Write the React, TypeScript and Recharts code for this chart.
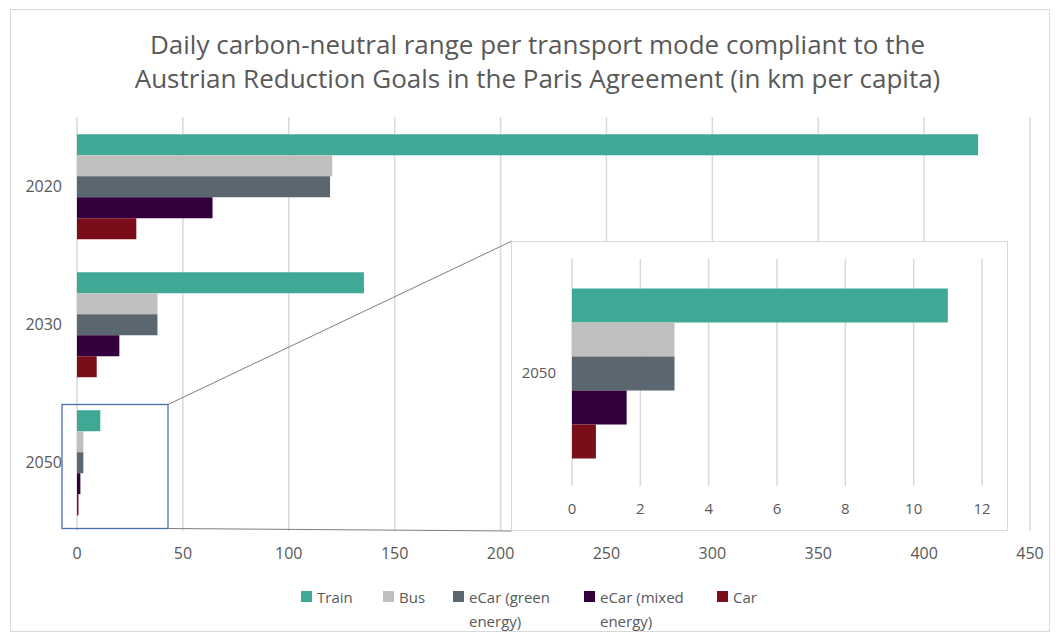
import { BarChart, Bar, XAxis, YAxis, CartesianGrid } from "recharts";

const years = ["2020", "2030", "2050"];
const seriesNames = ["Train", "Bus", "eCar (green energy)", "eCar (mixed energy)", "Car"];
const seriesColors = ["#3fa996", "#bfbfbf", "#5b6770", "#33003d", "#7b0c1a"];

// km per capita per day, one array per mode (2020, 2030, 2050)
const train = [425.5, 135.5, 11.0];
const bus = [120.5, 38, 3.0];
const eCarGreen = [119.5, 38, 3.0];
const eCarMixed = [64, 20, 1.6];
const car = [28, 9.3, 0.7];

const mainTicks = [0, 50, 100, 150, 200, 250, 300, 350, 400, 450];
const insetTicks = [0, 2, 4, 6, 8, 10, 12];
const insetYear = "2050";

const allSeries = [train, bus, eCarGreen, eCarMixed, car];

const mainData = years.map((year, i) => {
  const row: Record<string, string | number> = { year };
  seriesNames.forEach((name, s) => {
    row[name] = allSeries[s][i];
  });
  return row;
});
const insetData = mainData.filter((d) => d.year === insetYear);

const FONT = "'Open Sans', Lato, sans-serif";
const GREY = "#595959";

function LegendBox() {
  const widths = [82, 70, 131, 133, 60];
  return (
    <div
      style={{
        position: "absolute",
        left: 301,
        top: 585,
        display: "flex",
        fontFamily: FONT,
        fontSize: 15,
        lineHeight: "24px",
        color: GREY,
      }}
    >
      {seriesNames.map((name, i) => (
        <div key={name} style={{ width: widths[i], display: "flex", alignItems: "flex-start" }}>
          <span
            style={{
              width: 11,
              height: 11,
              marginTop: 6,
              marginRight: 5,
              background: seriesColors[i],
              flex: "none",
            }}
          />
          <span style={{ width: 100 }}>{name}</span>
        </div>
      ))}
    </div>
  );
}

export default function App() {
  return (
    <div style={{ position: "absolute", left: 0, top: 0, width: 1056, height: 634, background: "#fff" }}>
      <div
        style={{
          position: "absolute",
          left: 10,
          top: 9,
          width: 1038,
          height: 621,
          border: "1.5px solid #d9d9d9",
        }}
      />
      <div
        style={{
          position: "absolute",
          left: 0,
          width: 1075,
          top: 27,
          textAlign: "center",
          fontFamily: FONT,
          fontSize: 26,
          lineHeight: "34px",
          color: GREY,
        }}
      >
        Daily carbon-neutral range per transport mode compliant to the
        <br />
        Austrian Reduction Goals in the Paris Agreement (in km per capita)
      </div>

      <div style={{ position: "absolute", left: 0, top: 0 }}>
        <BarChart
          layout="vertical"
          width={1056}
          height={634}
          data={mainData}
          margin={{ top: 117, right: 26, bottom: 73, left: 0 }}
          barCategoryGap="12.5%"
          barGap={0}
        >
          <CartesianGrid horizontal={false} stroke="#d9d9d9" strokeWidth={1.5} />
          <XAxis
            type="number"
            domain={[0, 450]}
            ticks={mainTicks}
            height={30}
            axisLine={false}
            tickLine={false}
            tickSize={0}
            tickMargin={17}
            tick={{ fill: GREY, fontSize: 16, fontFamily: FONT }}
          />
          <YAxis
            type="category"
            dataKey="year"
            width={77}
            axisLine={false}
            tickLine={false}
            tickSize={0}
            tickMargin={15}
            tick={{ fill: GREY, fontSize: 16, fontFamily: FONT }}
          />
          {seriesNames.map((name, i) => (
            <Bar key={name} dataKey={name} fill={seriesColors[i]} isAnimationActive={false} />
          ))}
        </BarChart>
      </div>

      <svg
        width={1056}
        height={634}
        style={{ position: "absolute", left: 0, top: 0, pointerEvents: "none" }}
      >
        <rect x={62} y={404.5} width={106} height={124} fill="none" stroke="#4a6fb5" strokeWidth={1.3} />
        <line x1={168} y1={404.5} x2={512} y2={241} stroke="#7f7f7f" strokeWidth={1} />
        <line x1={168} y1={528.5} x2={512} y2={531} stroke="#7f7f7f" strokeWidth={1} />
      </svg>

      <div
        style={{
          position: "absolute",
          left: 511,
          top: 241,
          width: 497,
          height: 290,
          background: "#fff",
          border: "1.5px solid #d9d9d9",
          boxSizing: "border-box",
        }}
      >
        <BarChart
          layout="vertical"
          width={494}
          height={287}
          data={insetData}
          margin={{ top: 17, right: 24, bottom: 13, left: 0 }}
          barCategoryGap="13%"
          barGap={0}
        >
          <CartesianGrid horizontal={false} stroke="#d9d9d9" strokeWidth={1.5} />
          <XAxis
            type="number"
            domain={[0, 12]}
            ticks={insetTicks}
            height={30}
            axisLine={false}
            tickLine={false}
            tickSize={0}
            tickMargin={17}
            tick={{ fill: GREY, fontSize: 15, fontFamily: FONT }}
          />
          <YAxis
            type="category"
            dataKey="year"
            width={60}
            axisLine={false}
            tickLine={false}
            tickSize={0}
            tickMargin={16}
            tick={{ fill: GREY, fontSize: 15, fontFamily: FONT }}
          />
          {seriesNames.map((name, i) => (
            <Bar key={name} dataKey={name} fill={seriesColors[i]} isAnimationActive={false} />
          ))}
        </BarChart>
      </div>

      <LegendBox />
    </div>
  );
}
